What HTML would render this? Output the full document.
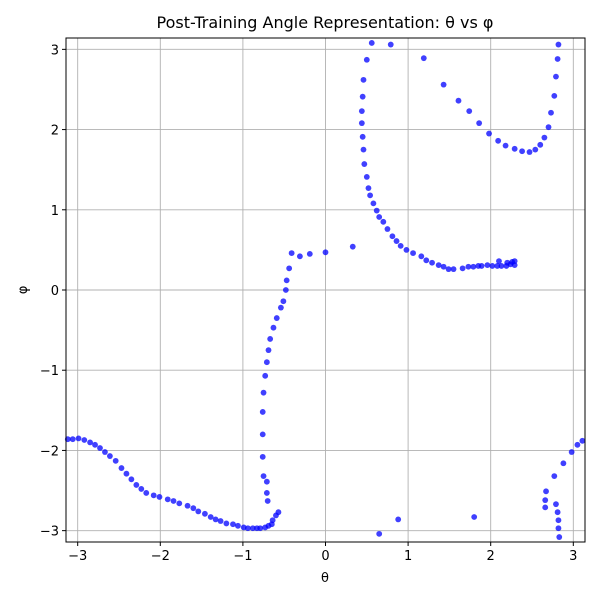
<!DOCTYPE html>
<html><head><meta charset="utf-8"><style>
body{margin:0;background:#fff;}
svg text{font-family:"DejaVu Sans","Liberation Sans",sans-serif;fill:#000;}
</style></head><body>
<svg id="chart" width="600" height="600" xmlns="http://www.w3.org/2000/svg">
<rect x="0" y="0" width="600" height="600" fill="#fff"/>
<text x="325" y="28" font-size="16" text-anchor="middle">Post-Training Angle Representation: θ vs φ</text>
<g id="grid"></g>
<g id="points"></g>
<rect x="66" y="38" width="519" height="504" fill="none" stroke="#000" stroke-width="1"/>
<g id="ticks"></g>
<text x="325" y="582" font-size="13" text-anchor="middle">θ</text>
<text x="27" y="290" font-size="13" text-anchor="middle" transform="rotate(-90 27 290)">φ</text>
</svg>
<script>
const xTicks=[-3,-2,-1,0,1,2,3];
const yTicks=[-3,-2,-1,0,1,2,3];
const thetaValues=[-3.12,-3.06,-2.99,-2.92,-2.85,-2.79,-2.73,-2.67,-2.61,-2.54,-2.47,-2.41,-2.35,-2.29,-2.23,-2.17,-2.08,-2.01,-1.91,-1.84,-1.77,-1.67,-1.60,-1.54,-1.46,-1.39,-1.33,-1.27,-1.20,-1.12,-1.06,-0.99,-0.94,-0.88,-0.83,-0.79,-0.73,-0.69,-0.65,-0.64,-0.60,-0.57,-0.70,-0.71,-0.71,-0.75,-0.76,-0.76,-0.76,-0.75,-0.73,-0.71,-0.69,-0.67,-0.63,-0.59,-0.54,-0.51,-0.48,-0.47,-0.44,-0.41,-0.31,-0.19,0,0.33,
0.56,0.79,0.50,0.46,0.45,0.44,0.44,0.45,0.46,0.47,0.50,0.52,0.54,0.58,0.62,0.65,0.70,0.75,0.81,0.86,0.91,0.98,1.06,1.16,1.22,1.29,1.37,1.43,1.49,1.55,1.66,1.73,1.79,1.85,1.89,1.96,2.02,2.08,2.13,2.19,2.10,2.20,2.24,2.26,2.29,2.29,
1.19,1.43,1.61,1.74,1.86,1.98,2.09,2.18,2.29,2.38,2.47,2.54,2.60,2.65,2.70,2.73,2.77,2.79,2.81,2.82,
0.65,0.88,1.80,2.67,2.66,2.66,2.77,2.88,2.98,3.05,3.11,2.79,2.81,2.82,2.82,2.83];
const phiValues=[-1.86,-1.86,-1.85,-1.87,-1.90,-1.93,-1.97,-2.02,-2.07,-2.13,-2.22,-2.29,-2.36,-2.43,-2.48,-2.53,-2.56,-2.58,-2.61,-2.63,-2.66,-2.69,-2.72,-2.76,-2.79,-2.83,-2.86,-2.88,-2.91,-2.92,-2.94,-2.96,-2.97,-2.97,-2.97,-2.97,-2.96,-2.94,-2.92,-2.87,-2.81,-2.77,-2.63,-2.53,-2.39,-2.32,-2.08,-1.80,-1.52,-1.28,-1.07,-0.90,-0.75,-0.61,-0.47,-0.35,-0.22,-0.14,0,0.12,0.27,0.46,0.42,0.45,0.47,0.54,
3.08,3.06,2.87,2.62,2.41,2.23,2.08,1.91,1.75,1.57,1.41,1.27,1.18,1.08,0.99,0.91,0.85,0.76,0.67,0.61,0.55,0.50,0.46,0.42,0.37,0.34,0.31,0.29,0.26,0.26,0.27,0.29,0.29,0.30,0.30,0.31,0.30,0.30,0.30,0.30,0.36,0.34,0.32,0.35,0.36,0.31,
2.89,2.56,2.36,2.23,2.08,1.95,1.86,1.80,1.76,1.73,1.72,1.75,1.81,1.90,2.03,2.21,2.42,2.66,2.88,3.06,
-3.04,-2.86,-2.83,-2.51,-2.62,-2.71,-2.32,-2.16,-2.02,-1.93,-1.88,-2.67,-2.77,-2.87,-2.97,-3.08];
const L=66,R=585,T=38,B=542,PI=Math.PI;
const sx=v=>L+(v+PI)/(2*PI)*(R-L);
const sy=v=>B-(v+PI)/(2*PI)*(B-T);
const NS='http://www.w3.org/2000/svg';
const grid=document.getElementById('grid'),ticks=document.getElementById('ticks'),pts=document.getElementById('points');
function mk(tag,attrs,parent){const e=document.createElementNS(NS,tag);for(const k in attrs)e.setAttribute(k,attrs[k]);parent.appendChild(e);return e;}
xTicks.forEach(t=>{const x=sx(t);
 const g=mk('line',{x1:x,x2:x,y1:T,y2:B,stroke:'#b0b0b0','stroke-width':0.9},grid);
 
 
 const tk=mk('line',{x1:x,x2:x,y1:B,y2:B+4,stroke:'#000'},ticks);
 
 
 const lb=mk('text',{x:x,y:B+18,'font-size':13,'text-anchor':'middle'},ticks);
 lb.textContent=t<0?'\u2212'+(-t):String(t);
 
 
});
yTicks.forEach(t=>{const y=sy(t);
 const g=mk('line',{x1:L,x2:R,y1:y,y2:y,stroke:'#b0b0b0','stroke-width':0.9},grid);
 
 
 const tk=mk('line',{x1:L-4,x2:L,y1:y,y2:y,stroke:'#000'},ticks);
 
 
 const lb=mk('text',{x:L-7,y:y+5,'font-size':13,'text-anchor':'end'},ticks);
 lb.textContent=t<0?'\u2212'+(-t):String(t);
 
 
});
thetaValues.forEach((v,i)=>{
 const c=mk('circle',{cx:sx(v),cy:sy(phiValues[i]),r:2.9,fill:'#0000ff','fill-opacity':0.75},pts);
 
 
});
</script>
</body></html>
